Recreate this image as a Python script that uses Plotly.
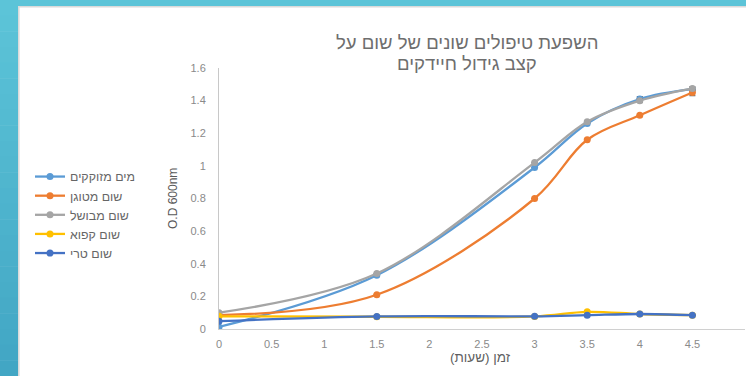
import plotly.graph_objects as go

# Measurement times (hours)
hours = [0, 1.5, 3, 3.5, 4, 4.5]

# Optical density at 600nm for each treatment
series_names = ["מים מזוקקים", "שום מטוגן", "שום מבושל", "שום קפוא", "שום טרי"]
od_distilled_water = [0.013, 0.33, 0.99, 1.26, 1.41, 1.47]
od_fried_garlic = [0.085, 0.21, 0.80, 1.16, 1.31, 1.45]
od_cooked_garlic = [0.10, 0.34, 1.02, 1.27, 1.40, 1.475]
od_frozen_garlic = [0.078, 0.075, 0.077, 0.105, 0.092, 0.085]
od_fresh_garlic = [0.048, 0.077, 0.078, 0.085, 0.092, 0.085]

# Small standard errors shown at the late time points
err_distilled_water = [0, 0, 0, 0, 0.015, 0.01]
err_fried_garlic = [0, 0, 0, 0, 0, 0.02]
err_cooked_garlic = [0, 0, 0, 0, 0.012, 0.01]
err_frozen_garlic = [0, 0, 0, 0, 0, 0]
err_fresh_garlic = [0, 0, 0, 0, 0, 0]

x_ticks = [0, 0.5, 1, 1.5, 2, 2.5, 3, 3.5, 4, 4.5, 5]
x_tick_text = ["0", "0.5", "1", "1.5", "2", "2.5", "3", "3.5", "4", "4.5", "5"]
y_ticks = [0, 0.2, 0.4, 0.6, 0.8, 1, 1.2, 1.4, 1.6]
y_tick_text = ["0", "0.2", "0.4", "0.6", "0.8", "1", "1.2", "1.4", "1.6"]

title_lines = ["השפעת טיפולים שונים של שום על", "קצב גידול חיידקים"]
x_title = "זמן (שעות)"
y_title = "O.D 600nm"

colors = ["#5B9BD5", "#ED7D31", "#A5A5A5", "#FFC000", "#4472C4"]
values = [od_distilled_water, od_fried_garlic, od_cooked_garlic, od_frozen_garlic, od_fresh_garlic]
errors = [err_distilled_water, err_fried_garlic, err_cooked_garlic, err_frozen_garlic, err_fresh_garlic]

W, H = 746, 376
L, R, T, B = 219, 1, 68, 47
PW, PH = W - L - R, H - T - B


def px(p):
    """Pixel column -> paper x."""
    return (p - L) / PW


def py(p):
    """Pixel row -> paper y."""
    return (H - B - p) / PH


fig = go.Figure()
for name, ys, err, col in zip(series_names, values, errors, colors):
    fig.add_trace(go.Scatter(
        x=hours, y=ys, name=name, mode="lines+markers",
        line=dict(color=col, width=2.3, shape="spline", smoothing=1),
        marker=dict(color=col, size=7),
        error_y=dict(type="data", array=err, visible=True,
                     color="#505050", thickness=1, width=3),
    ))

tick_font = dict(family="Liberation Sans, Arial, sans-serif", size=11, color="#8a8a8a")
heb_font = "Liberation Sans, Arial, sans-serif"

fig.update_xaxes(
    range=[0, 5], tickvals=x_ticks, ticktext=x_tick_text, tickfont=tick_font,
    showgrid=False, zeroline=False, showline=True, linecolor="#d0d0d0", linewidth=1,
    ticks="", ticklabelstandoff=5, fixedrange=True,
)
fig.update_yaxes(
    range=[0, 1.6], tickvals=y_ticks, ticktext=y_tick_text, tickfont=tick_font,
    showgrid=False, zeroline=False, showline=True, linecolor="#c8c8c8", linewidth=1,
    ticks="", ticklabelstandoff=10, fixedrange=True,
)

# Frame: teal gradient strips on the left and top, with a light inner border
shapes = []
bands = 24
top_col = (92, 196, 216)
bot_col = (66, 166, 196)
for i in range(bands):
    f = i / (bands - 1)
    c = tuple(round(a + (b - a) * f) for a, b in zip(top_col, bot_col))
    y0p = H * i / bands
    y1p = H * (i + 1) / bands
    shapes.append(dict(type="rect", xref="paper", yref="paper",
                       x0=px(0), x1=px(18), y0=py(y1p + 0.5), y1=py(y0p),
                       fillcolor="rgb(%d,%d,%d)" % c, line=dict(width=0), layer="above"))
shapes.append(dict(type="rect", xref="paper", yref="paper",
                   x0=px(0), x1=px(W), y0=py(6), y1=py(0),
                   fillcolor="rgb(92,196,216)", line=dict(width=0), layer="above"))
shapes.append(dict(type="line", xref="paper", yref="paper",
                   x0=px(18.8), x1=px(18.8), y0=py(H), y1=py(6),
                   line=dict(color="#dadada", width=1.6), layer="above"))
shapes.append(dict(type="line", xref="paper", yref="paper",
                   x0=px(18), x1=px(W), y0=py(6.8), y1=py(6.8),
                   line=dict(color="#dadada", width=1.6), layer="above"))

title_font = dict(family=heb_font, size=18.5, color="#6e6e6e")
annotations = [
    dict(text=title_lines[0], xref="paper", yref="paper", x=px(467), y=py(42),
         xanchor="center", yanchor="middle", showarrow=False, font=title_font),
    dict(text=title_lines[1], xref="paper", yref="paper", x=px(467), y=py(63),
         xanchor="center", yanchor="middle", showarrow=False, font=title_font),
    dict(text=y_title, xref="paper", yref="paper", x=px(173), y=py(199),
         xanchor="center", yanchor="middle", textangle=-90, showarrow=False,
         font=dict(family="Liberation Sans, Arial, sans-serif", size=12, color="#595959")),
    dict(text=x_title, xref="paper", yref="paper", x=px(480), y=py(357),
         xanchor="center", yanchor="middle", showarrow=False,
         font=dict(family=heb_font, size=13.5, color="#5f5f5f")),
]

fig.update_layout(
    width=W, height=H,
    margin=dict(l=L, r=R, t=T, b=B, autoexpand=False),
    paper_bgcolor="white", plot_bgcolor="white",
    shapes=shapes, annotations=annotations,
    showlegend=True,
    legend=dict(x=px(30), y=py(162), xanchor="left", yanchor="top",
                font=dict(family=heb_font, size=12.4, color="#666666"),
                bgcolor="rgba(0,0,0,0)", tracegroupgap=0, itemwidth=30),
)

fig.write_html("out.html", config={"displayModeBar": False})
